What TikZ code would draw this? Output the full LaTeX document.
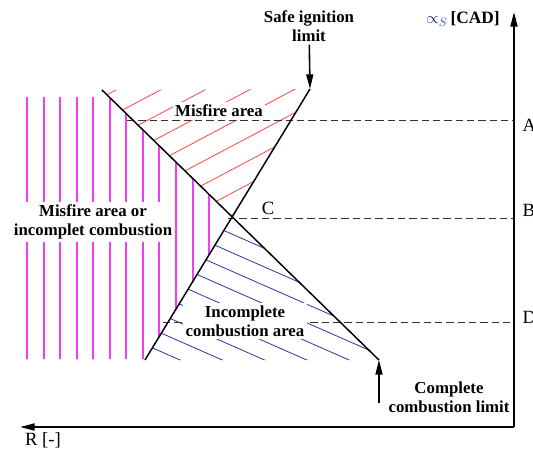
\documentclass[tikz,border=0pt]{standalone}
\usepackage{fontspec}
\setmainfont{Liberation Serif}
\usetikzlibrary{arrows.meta,calc}
\definecolor{hred}{RGB}{255,70,70}
\definecolor{hblue}{RGB}{50,50,160}
\definecolor{hmag}{RGB}{245,60,245}
\definecolor{navyc}{RGB}{20,20,110}
\definecolor{bluec}{RGB}{40,90,200}
\definecolor{dashc}{RGB}{50,50,50}
\begin{document}
\begin{tikzpicture}[x=0.75pt,y=-0.75pt,
  lab/.style={font=\bfseries\fontsize{12.6}{14.6}\selectfont, align=center, inner sep=2pt},
  plainlab/.style={font=\fontsize{14}{16}\selectfont, inner sep=1pt},
  bline/.style={line width=1.1pt, black},
  axisline/.style={line width=1.4pt, black, -{Triangle[length=11pt,width=5.25pt]}},
  arr/.style={line width=1.2pt, black, -{Triangle[length=11pt,width=5.25pt]}},
  dashline/.style={line width=0.75pt, dashc, dash pattern=on 5.5pt off 3pt},
  redhatch/.style={line width=0.6pt, hred},
  bluehatch/.style={line width=0.6pt, hblue},
  maghatch/.style={line width=1.5pt, hmag}]
\useasboundingbox (0,0) rectangle (533,455);
\fill[white] (0,0) rectangle (533,455);

% key points
\coordinate (L1a) at (102,90);
\coordinate (L1b) at (379,360);
\coordinate (L2a) at (145,360);
\coordinate (L2b) at (310,89);
\coordinate (C) at (intersection of L1a--L1b and L2a--L2b);
\coordinate (O) at (514,427);
\coordinate (Ytip) at (514,12);
\coordinate (Xtip) at (20,427);

% red hatch (misfire area)
\begin{scope}
  \clip (L1a) -- (L2b) -- (C) -- cycle;
  \foreach \k in {-2,...,9}
    \draw[redhatch] (90,{175+23.5*\k-47.7}) -- (320,{175+23.5*\k-169.6});
\end{scope}

% blue hatch (incomplete combustion area)
\begin{scope}
  \clip (C) -- (L2a) -- (L1b) -- cycle;
  \foreach \k in {-1,...,9}
    \draw[bluehatch] (100,{132+18.6*\k+44}) -- (400,{132+18.6*\k+176});
\end{scope}

% magenta vertical hatch
\begin{scope}
  \clip (20,97) -- (109.2,97) -- (C) -- (145,359) -- (20,359) -- cycle;
  \foreach \k in {0,...,11}
    \draw[maghatch] ({27+16.55*\k},90) -- ({27+16.55*\k},365);
\end{scope}

% dashed levels
\coordinate (A1) at (127,120);  \coordinate (A2) at (514,120);
\coordinate (B1) at (228,218);  \coordinate (B2) at (514,218);
\coordinate (D1) at (163,322);  \coordinate (D2) at (514,322);
\draw[dashline] (A1) -- (A2);
\draw[dashline] (B1) -- (B2);
\draw[dashline] (D1) -- (D2);

% boundary lines
\draw[bline] (L1a) -- (L1b);
\draw[bline] (L2a) -- (L2b);

% axes
\draw[axisline] (O) -- (Ytip);
\draw[axisline] (O) -- (Xtip);

% labels
\node[lab] (safe) at (309,26) {Safe ignition\\limit};
\draw[arr] (safe) -- (L2b);

\node[lab] (cmp) at (449,397) {Complete\\combustion limit};
\coordinate (cbot) at (379,403);
\draw[arr] (cbot) -- (L1b);

\node[lab, fill=white] (mis) at (219,111) {Misfire area};
\node[lab, fill=white] (mor) at (93,222) {Misfire area or\\incomplet combustion};
\node[lab, fill=white] (inc) at (245,321) {Incomplete\\combustion area};

\node[plainlab] (Cl) at (268,208) {C};
\node[plainlab, anchor=west] (Al) at (521,125) {A};
\node[plainlab, anchor=west] (Bl) at (521,210) {B};
\node[plainlab, anchor=west] (Dl) at (521,317) {D};
\node[plainlab] (Rl) at (43,440) {R [-]};
\node[inner sep=1pt, font=\fontsize{13}{15}\selectfont] (yl) at (463,19)
  {\textcolor{navyc}{$\propto$}\textcolor{bluec}{$_{S}$}\,\textbf{[CAD]}};
\end{tikzpicture}
\end{document}
